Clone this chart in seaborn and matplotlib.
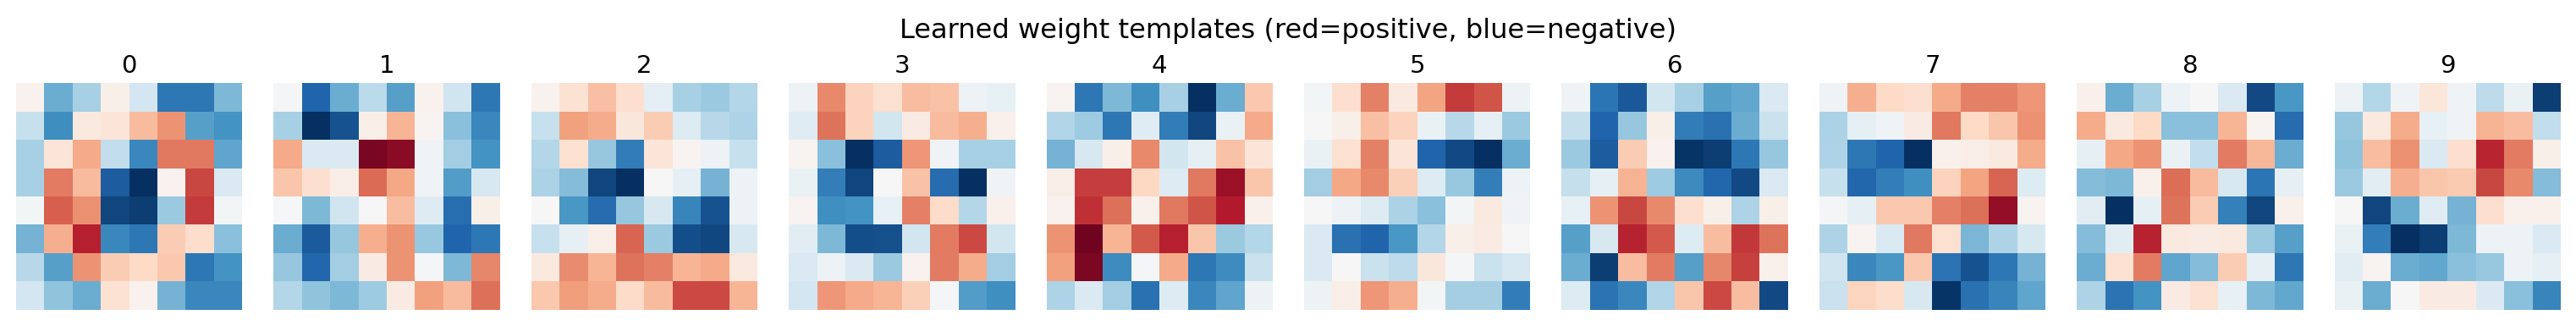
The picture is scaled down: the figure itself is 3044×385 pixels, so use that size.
import numpy as np
import matplotlib
matplotlib.use('Agg')
import matplotlib.pyplot as plt
import seaborn as sns

digits = ['0', '1', '2', '3', '4', '5', '6', '7', '8', '9']

# 8x8 weight templates, one per digit (scale -1..1)
w0 = [[0.04, -0.5, -0.33, 0.06, -0.18, -0.72, -0.72, -0.45],
      [-0.23, -0.62, 0.1, 0.13, 0.32, 0.45, -0.55, -0.6],
      [-0.33, 0.13, 0.38, -0.25, -0.65, 0.53, 0.53, -0.53],
      [-0.33, 0.52, 0.32, -0.83, -1.0, 0.04, 0.67, -0.15],
      [-0.03, 0.6, 0.46, -0.92, -0.95, -0.37, 0.7, -0.03],
      [-0.47, 0.36, 0.78, -0.65, -0.72, 0.25, 0.18, -0.42],
      [-0.28, -0.55, 0.45, 0.25, 0.2, 0.27, -0.72, -0.6],
      [-0.18, -0.4, -0.5, 0.15, 0.04, -0.47, -0.65, -0.65]]
w1 = [[-0.02, -0.8, -0.5, -0.27, -0.55, 0.04, -0.2, -0.72],
      [-0.33, -1.0, -0.87, 0.07, 0.34, 0.03, -0.42, -0.65],
      [0.38, -0.15, -0.15, 0.95, 0.9, -0.04, -0.35, -0.6],
      [0.28, 0.17, 0.07, 0.57, 0.39, -0.04, -0.56, -0.17],
      [-0.01, -0.45, -0.2, 0.0, 0.31, -0.13, -0.76, 0.06],
      [-0.5, -0.84, -0.39, 0.36, 0.45, -0.38, -0.8, -0.72],
      [-0.39, -0.79, -0.35, 0.08, 0.45, -0.02, -0.45, 0.49],
      [-0.29, -0.4, -0.45, -0.36, 0.08, 0.41, 0.32, 0.55]]
w2 = [[0.04, 0.15, 0.3, 0.17, -0.1, -0.33, -0.37, -0.29],
      [-0.23, 0.41, 0.37, 0.11, 0.25, -0.14, -0.28, -0.31],
      [-0.29, 0.16, -0.39, -0.7, 0.13, 0.03, -0.06, -0.23],
      [-0.32, -0.43, -0.92, -1.0, 0.0, -0.09, -0.47, -0.06],
      [0.0, -0.58, -0.77, -0.39, -0.17, -0.66, -0.87, -0.06],
      [-0.23, -0.09, 0.07, 0.58, -0.37, -0.89, -0.91, -0.17],
      [0.1, 0.47, 0.34, 0.54, 0.5, 0.34, 0.38, 0.1],
      [0.27, 0.42, 0.37, 0.19, 0.32, 0.66, 0.66, 0.34]]
w3 = [[-0.05, 0.48, 0.23, 0.16, 0.31, 0.29, -0.06, -0.08],
      [-0.12, 0.54, 0.23, -0.19, 0.08, 0.32, 0.36, 0.05],
      [0.03, -0.42, -1.0, -0.83, 0.44, -0.04, -0.33, -0.33],
      [-0.07, -0.69, -0.92, 0.0, 0.29, -0.77, -1.0, -0.04],
      [0.03, -0.61, -0.6, -0.08, 0.5, 0.19, -0.29, 0.05],
      [-0.11, -0.45, -0.89, -0.88, -0.19, 0.52, 0.66, -0.19],
      [-0.15, -0.06, -0.15, -0.37, 0.04, 0.52, 0.37, -0.35],
      [-0.18, 0.44, 0.38, 0.34, 0.24, -0.02, -0.56, -0.61]]
w4 = [[0.03, -0.72, -0.45, -0.61, -0.33, -1.0, -0.5, 0.27],
      [-0.3, -0.36, -0.72, -0.12, -0.7, -0.92, -0.07, 0.38],
      [-0.47, -0.17, 0.06, 0.48, -0.19, -0.09, 0.29, 0.13],
      [0.07, 0.69, 0.69, 0.21, -0.13, 0.53, 0.86, 0.28],
      [0.04, 0.73, 0.55, 0.05, 0.53, 0.63, 0.79, 0.05],
      [0.45, 0.97, 0.34, 0.61, 0.78, 0.28, -0.37, -0.29],
      [0.41, 0.94, -0.63, -0.02, 0.38, -0.72, -0.63, -0.22],
      [-0.31, -0.15, -0.35, -0.75, -0.14, -0.65, -0.53, -0.05]]
w5 = [[-0.03, 0.17, 0.5, 0.1, 0.4, 0.7, 0.63, -0.05],
      [0.0, 0.06, 0.3, 0.23, -0.07, -0.28, -0.09, -0.37],
      [-0.07, 0.16, 0.5, 0.13, -0.8, -0.9, -1.0, -0.5],
      [-0.35, 0.39, 0.48, 0.24, -0.14, -0.38, -0.69, -0.06],
      [0.0, -0.06, -0.14, -0.32, -0.42, -0.03, 0.1, -0.04],
      [-0.15, -0.75, -0.8, -0.58, -0.29, 0.06, 0.08, 0.0],
      [-0.15, 0.0, -0.22, -0.26, 0.11, -0.02, -0.22, -0.17],
      [-0.05, 0.07, 0.44, 0.36, -0.03, -0.34, -0.34, -0.7]]
w6 = [[-0.04, -0.73, -0.85, -0.19, -0.33, -0.55, -0.52, -0.15],
      [-0.24, -0.8, -0.39, 0.06, -0.7, -0.75, -0.5, -0.22],
      [-0.37, -0.83, 0.25, 0.04, -0.98, -0.95, -0.72, -0.39],
      [-0.24, -0.09, 0.35, -0.36, -0.64, -0.79, -0.9, -0.15],
      [-0.08, 0.45, 0.67, 0.48, 0.17, 0.06, -0.31, 0.06],
      [-0.55, -0.17, 0.77, 0.61, -0.14, 0.31, 0.71, 0.54],
      [-0.5, -0.95, 0.31, 0.52, -0.55, 0.49, 0.68, 0.05],
      [-0.14, -0.74, -0.65, -0.3, 0.28, 0.66, 0.31, -0.9]]
w7 = [[-0.04, 0.36, 0.2, 0.17, 0.38, 0.5, 0.5, 0.44],
      [-0.32, -0.09, -0.04, 0.08, 0.53, 0.2, 0.28, 0.46],
      [-0.31, -0.72, -0.8, -1.0, 0.05, 0.07, 0.1, 0.37],
      [-0.23, -0.79, -0.69, -0.61, 0.23, 0.4, 0.58, -0.14],
      [-0.02, -0.09, 0.27, 0.27, 0.5, 0.55, 0.88, 0.03],
      [-0.31, 0.03, -0.15, 0.53, 0.16, -0.46, -0.31, -0.17],
      [-0.2, -0.65, -0.58, 0.27, -0.74, -0.87, -0.72, -0.47],
      [-0.22, 0.22, 0.18, -0.17, -0.98, -0.75, -0.66, -0.53]]
w8 = [[0.05, -0.5, -0.33, -0.06, 0.0, -0.15, -0.9, -0.58],
      [0.37, 0.1, 0.2, -0.42, -0.42, 0.34, 0.03, -0.77],
      [-0.09, 0.39, 0.45, -0.07, -0.25, 0.52, 0.33, -0.5],
      [-0.43, -0.45, 0.05, 0.56, 0.32, -0.17, -0.73, -0.09],
      [-0.11, -1.0, -0.09, 0.54, 0.25, -0.68, -0.92, 0.05],
      [-0.43, -0.11, 0.77, 0.1, 0.08, 0.1, -0.37, -0.55],
      [-0.5, 0.16, 0.52, -0.53, -0.43, 0.25, -0.09, -0.72],
      [-0.31, -0.74, -0.6, 0.08, 0.16, -0.08, -0.45, -0.52]]
w9 = [[-0.06, -0.29, -0.04, 0.12, -0.04, -0.26, -0.07, -0.95],
      [-0.39, 0.1, 0.37, -0.08, -0.04, 0.35, 0.31, -0.25],
      [-0.4, 0.31, 0.46, -0.15, 0.17, 0.76, 0.52, 0.06],
      [-0.37, -0.11, 0.36, 0.28, 0.26, 0.67, 0.48, -0.43],
      [0.0, -0.92, -0.5, -0.12, -0.47, 0.17, 0.05, 0.05],
      [-0.07, -0.69, -1.0, -0.95, -0.45, -0.06, -0.05, -0.15],
      [-0.11, 0.03, -0.5, -0.52, -0.42, -0.38, -0.06, -0.09],
      [-0.07, -0.5, 0.0, 0.08, 0.08, -0.15, -0.42, -0.66]]

templates = [w0, w1, w2, w3, w4, w5, w6, w7, w8, w9]

fig, axes = plt.subplots(1, 10, figsize=(3044 / 150, 385 / 150), dpi=150)
fig.subplots_adjust(left=0.0062, right=0.9941, bottom=0.049, top=0.746, wspace=0.138)

for ax, d, w in zip(axes, digits, templates):
    sns.heatmap(np.array(w), ax=ax, cmap='RdBu_r', center=0, vmin=-1, vmax=1,
                cbar=False, square=True, xticklabels=False, yticklabels=False)
    ax.set_title(d, fontsize=14, pad=6)
    ax.axis('off')

fig.suptitle('Learned weight templates (red=positive, blue=negative)', fontsize=15.4, y=0.945)
fig.savefig('out.png', dpi=150)
